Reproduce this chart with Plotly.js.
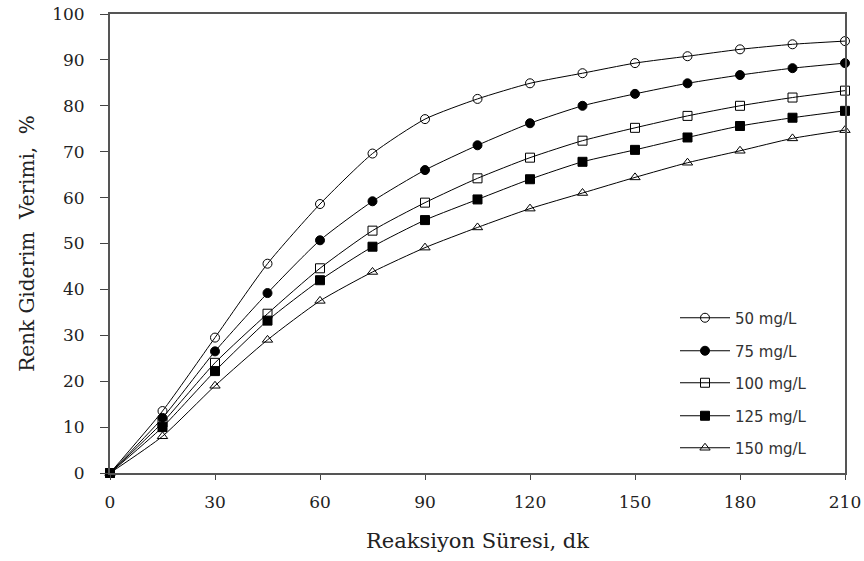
<!DOCTYPE html>
<html>
<head>
<meta charset="utf-8">
<script src="https://cdn.plot.ly/plotly-3.0.1.min.js"></script>
<style>html,body{margin:0;padding:0;background:#fff;}#chart{width:864px;height:561px;}</style>
</head>
<body>
<div id="chart"></div>
<script>
const time = [0, 15, 30, 45, 60, 75, 90, 105, 120, 135, 150, 165, 180, 195, 210];
const seriesNames = ["50 mg/L", "75 mg/L", "100 mg/L", "125 mg/L", "150 mg/L"];
const c50  = [0, 13.5, 29.5, 45.6, 58.6, 69.6, 77.1, 81.5, 84.9, 87.1, 89.3, 90.8, 92.3, 93.4, 94.1];
const c75  = [0, 12.0, 26.5, 39.2, 50.7, 59.2, 66.0, 71.4, 76.2, 80.0, 82.6, 84.9, 86.7, 88.2, 89.3];
const c100 = [0, 11.0, 24.0, 34.7, 44.6, 52.8, 58.9, 64.2, 68.7, 72.4, 75.2, 77.8, 80.0, 81.8, 83.3];
const c125 = [0, 10.0, 22.2, 33.2, 42.0, 49.3, 55.1, 59.6, 64.0, 67.8, 70.4, 73.1, 75.6, 77.4, 78.9];
const c150 = [0, 8.0, 19.0, 29.0, 37.5, 43.8, 49.1, 53.5, 57.6, 61.0, 64.4, 67.6, 70.2, 72.9, 74.7];
const xTicks = [0, 30, 60, 90, 120, 150, 180, 210];
const yTicks = [0, 10, 20, 30, 40, 50, 60, 70, 80, 90, 100];

const allSeries = [c50, c75, c100, c125, c150];
const symbols = ["circle-open", "circle", "square-open", "square", "triangle-up-open"];
const legendY = [318, 351, 383, 416, 448];

const traces = allSeries.map((vals, i) => ({
  x: time, y: vals, name: seriesNames[i], type: "scatter", mode: "lines+markers",
  line: {color: "#000", width: 1, shape: "spline", smoothing: 0.6},
  marker: {symbol: symbols[i], size: 9, color: "#000", line: {color: "#000", width: 1}},
  cliponaxis: false,
  legend: i === 0 ? "legend" : "legend" + (i + 1)
}));

const serif = "DejaVu Serif, serif";
const plotTop = 14, plotBottom = 473;
const layout = {
  width: 864, height: 561,
  margin: {l: 110, r: 19, t: 14, b: 88},
  paper_bgcolor: "#fff", plot_bgcolor: "#fff",
  showlegend: true,
  xaxis: {
    range: [0, 210], tickvals: xTicks, ticktext: xTicks.map(String),
    showgrid: false, zeroline: false, showline: true, mirror: true,
    linecolor: "#555", linewidth: 2, ticks: "outside", ticklen: 5, tickcolor: "#444", tickwidth: 1,
    ticklabelstandoff: 8,
    tickfont: {family: serif, size: 17, color: "#222"},
    title: {text: "Reaksiyon Süresi, dk", font: {family: serif, size: 21, color: "#222"}, standoff: 22}
  },
  yaxis: {
    range: [0, 100], tickvals: yTicks, ticktext: yTicks.map(String),
    showgrid: false, zeroline: false, showline: true, mirror: true,
    linecolor: "#555", linewidth: 2, ticks: "outside", ticklen: 8, tickcolor: "#444", tickwidth: 1,
    ticklabelstandoff: 12,
    tickfont: {family: serif, size: 17, color: "#222"},
    title: {text: "Renk Giderim\u00a0\u00a0Verimi,\u00a0\u00a0%", font: {family: serif, size: 20, color: "#222"}, standoff: 12}
  }
};
legendY.forEach((py, i) => {
  const key = i === 0 ? "legend" : "legend" + (i + 1);
  layout[key] = {
    x: (675 - 110) / 735, xanchor: "left",
    y: (plotBottom - py) / (plotBottom - plotTop), yanchor: "middle",
    bgcolor: "rgba(0,0,0,0)", borderwidth: 0, itemwidth: 50,
    font: {family: "DejaVu Sans, sans-serif", size: 15, color: "#333"}
  };
});

Plotly.newPlot("chart", traces, layout, {displayModeBar: false, staticPlot: true});
</script>
</body>
</html>
